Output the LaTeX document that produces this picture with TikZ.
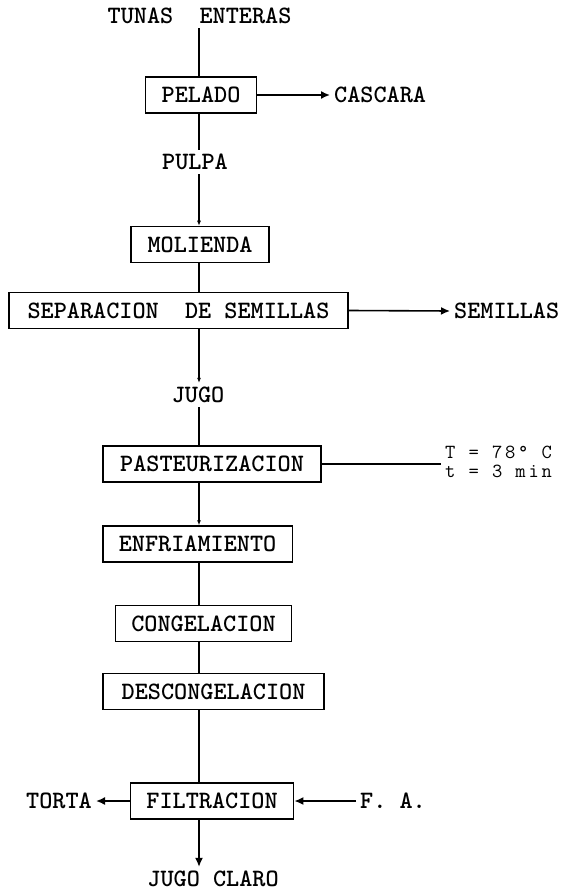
\documentclass[tikz,border=0pt]{standalone}
\usepackage{fontspec}
\usepackage{tikz}
\usetikzlibrary{arrows.meta}
\newfontfamily\condfont[LetterSpace=14]{Latin Modern Mono}
\tikzset{
  >={Latex[length=9pt,width=8pt]},
  proc/.style={draw,line width=1.5pt,inner xsep=16pt,minimum height=36pt},
  lbl/.style={inner sep=4pt},
  flow/.style={line width=1.6pt},
  tinytip/.style={-{Latex[length=5pt,width=4pt]}}
}

\begin{document}
\begin{tikzpicture}[x=1pt,y=-1pt,font=\fontsize{25}{28}\selectfont\ttfamily\bfseries]
    \useasboundingbox (0,0) rectangle (576,893);
    \coordinate (spine) at (199,0);

    % Main line
    \node[lbl] (tunas) at (199.5,16) {TUNAS\ \ ENTERAS};
    \node[proc,minimum width=110pt] (pel) at (201,95) {PELADO};
    \node[lbl] (pulpa) at (195,162) {PULPA};
    \node[proc,minimum width=138pt] (mol) at (200,244.5) {MOLIENDA};
    \node[proc,minimum width=339pt] (sep) at (178.5,310.5) {SEPARACION\ \ DE SEMILLAS};
    \node[lbl] (jugo) at (198,395) {JUGO};
    \node[proc,minimum width=218pt] (pas) at (212,464) {PASTEURIZACION};
    \node[proc,minimum width=185pt] (enf) at (197.5,544) {ENFRIAMIENTO};
    \node[proc,minimum width=173pt] (con) at (203.5,623.5) {CONGELACION};
    \node[proc,minimum width=221pt] (des) at (213.5,691.5) {DESCONGELACION};
    \node[proc,minimum width=162pt] (fil) at (212,801) {FILTRACION};
    \node[lbl] (claro) at (213,879) {JUGO CLARO};

    % Side streams
    \node[lbl,anchor=west] (cas) at (330,95) {CASCARA};
    \node[lbl,anchor=west] (sem) at (450,311) {SEMILLAS};
    \node[lbl,anchor=west,align=left,font=\condfont\fontsize{20}{18.5}\selectfont] (cond) at (441,462) {T = 78° C\\t = 3 min};
    \node[lbl,anchor=east] (torta) at (96,801) {TORTA};
    \node[lbl,anchor=west] (fa) at (356,801) {F. A.};

    % Flow down
    \draw[flow] (tunas.south -| spine) -- (pel.north -| spine);
    \draw[flow] (pel.south -| spine) -- (pulpa.north -| spine);
    \draw[flow,tinytip] (pulpa.south -| spine) -- (mol.north -| spine);
    \draw[flow] (mol.south -| spine) -- (sep.north -| spine);
    \draw[flow,tinytip] (sep.south -| spine) -- (jugo.north -| spine);
    \draw[flow] (jugo.south -| spine) -- (pas.north -| spine);
    \draw[flow,tinytip] (pas.south -| spine) -- (enf.north -| spine);
    \draw[flow] (enf.south -| spine) -- (con.north -| spine);
    \draw[flow] (con.south -| spine) -- (des.north -| spine);
    \draw[flow] (des.south -| spine) -- (fil.north -| spine);
    \draw[flow,->] (fil.south -| spine) -- (claro.north -| spine);

    % Side links
    \draw[flow,->] (pel.east) -- (cas.west);
    \draw[flow,->] (sep.east) -- (sem.west);
    \draw[flow] (pas.east) -- (pas.east -| cond.west);
    \draw[flow,->] (fil.west) -- (torta.east);
    \draw[flow,->] (fa.west) -- (fil.east);
\end{tikzpicture}
\end{document}
